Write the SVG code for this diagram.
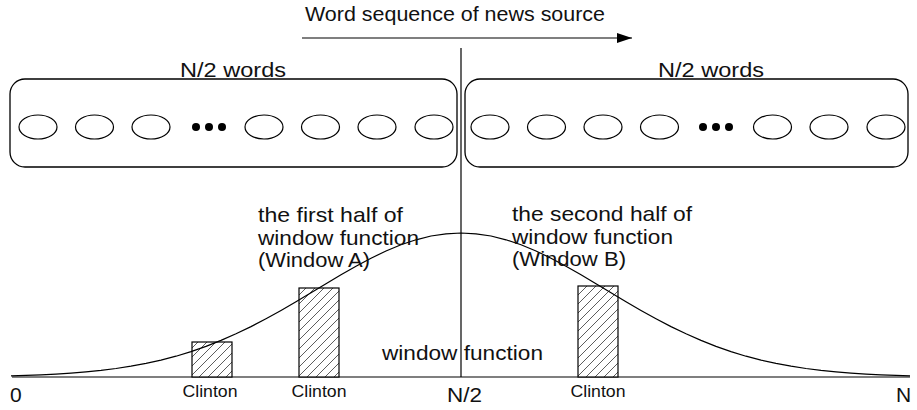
<svg xmlns="http://www.w3.org/2000/svg" width="917" height="410" viewBox="0 0 917 410">
<style>
  text { font-family: "Liberation Sans", Arial, sans-serif; fill: #111; }
  .big { font-size: 21px; }
  .small { font-size: 16px; }
  .ln { stroke: #000; stroke-width: 1.2; fill: none; }
  .box { stroke: #000; stroke-width: 1.3; fill: #fff; }
  .word { stroke: #000; stroke-width: 1.2; fill: #fff; }
  .dot { fill: #000; }
  .bar { stroke: #000; stroke-width: 1.2; fill: url(#hatch); }
</style>
<defs>
  <pattern id="hatch" patternUnits="userSpaceOnUse" width="9" height="9">
    <rect width="9" height="9" fill="#fff"/>
    <path d="M-1,10 L10,-1 M-3,3 L3,-3 M6,12 L12,6" stroke="#333" stroke-width="0.8"/>
  </pattern>
  <marker id="arrow" markerWidth="16" markerHeight="12" refX="15" refY="6" orient="auto" markerUnits="userSpaceOnUse">
    <path d="M0,1 L15,6 L0,11 Z" fill="#000"/>
  </marker>
</defs>

<g id="title">
  <text class="big" x="305" y="21" textLength="300" lengthAdjust="spacingAndGlyphs">Word sequence of news source</text>
</g>

<g id="connectors">
  <line class="ln" x1="302" y1="38" x2="632" y2="38" marker-end="url(#arrow)"/>
  <line class="ln" x1="461" y1="48" x2="461" y2="377"/>
  <line class="ln" x1="12" y1="377" x2="910" y2="377"/>
</g>

<g id="left-window">
  <text class="big" x="180" y="77" textLength="106" lengthAdjust="spacingAndGlyphs">N/2 words</text>
  <rect class="box" x="10" y="79" width="447" height="88" rx="15" ry="15"/>
  <ellipse class="word" cx="38" cy="127" rx="19" ry="12"/>
  <ellipse class="word" cx="94.5" cy="127" rx="19" ry="12"/>
  <ellipse class="word" cx="151" cy="127" rx="19" ry="12"/>
  <circle class="dot" cx="196" cy="127" r="4"/>
  <circle class="dot" cx="209" cy="127" r="4"/>
  <circle class="dot" cx="222" cy="127" r="4"/>
  <ellipse class="word" cx="264" cy="127" rx="19" ry="12"/>
  <ellipse class="word" cx="320.5" cy="127" rx="19" ry="12"/>
  <ellipse class="word" cx="377" cy="127" rx="19" ry="12"/>
  <ellipse class="word" cx="434" cy="127" rx="19" ry="12"/>
</g>

<g id="right-window">
  <text class="big" x="658" y="77" textLength="106" lengthAdjust="spacingAndGlyphs">N/2 words</text>
  <rect class="box" x="465" y="79" width="443" height="88" rx="15" ry="15"/>
  <ellipse class="word" cx="490" cy="127" rx="19" ry="12"/>
  <ellipse class="word" cx="546.5" cy="127" rx="19" ry="12"/>
  <ellipse class="word" cx="603" cy="127" rx="19" ry="12"/>
  <ellipse class="word" cx="659.5" cy="127" rx="19" ry="12"/>
  <circle class="dot" cx="703" cy="127" r="4"/>
  <circle class="dot" cx="716" cy="127" r="4"/>
  <circle class="dot" cx="729" cy="127" r="4"/>
  <ellipse class="word" cx="772.5" cy="127" rx="19" ry="12"/>
  <ellipse class="word" cx="829" cy="127" rx="19" ry="12"/>
  <ellipse class="word" cx="886" cy="127" rx="19" ry="12"/>
</g>

<g id="bars">
  <rect class="bar" x="192" y="342" width="40" height="35"/>
  <rect class="bar" x="299" y="288" width="40" height="89"/>
  <rect class="bar" x="578" y="286" width="40" height="91"/>
</g>

<g id="window-curve">
  <polyline class="ln" points="11,375.8 26,375.4 41,374.8 56,374.1 71,373.1 86,371.9 101,370.4 116,368.5 131,366.2 146,363.4 161,360.1 176,356.2 191,351.6 206,346.4 221,340.4 236,333.8 251,326.6 266,318.7 281,310.4 296,301.7 311,292.7 326,283.7 341,274.8 356,266.2 371,258.2 386,251.0 401,244.8 416,239.8 431,236.0 446,233.8 461,233 476,233.8 491,236.0 506,239.8 521,244.8 536,251.0 551,258.2 566,266.2 581,274.8 596,283.7 611,292.7 626,301.7 641,310.4 656,318.7 671,326.6 686,333.8 701,340.4 716,346.4 731,351.6 746,356.2 761,360.1 776,363.4 791,366.2 806,368.5 821,370.4 836,371.9 851,373.1 866,374.1 881,374.8 896,375.4 910,375.8"/>
</g>

<g id="label-window-a">
  <text class="big" x="258" y="222" textLength="145" lengthAdjust="spacingAndGlyphs">the first half of</text>
  <text class="big" x="258" y="245" textLength="161" lengthAdjust="spacingAndGlyphs">window function</text>
  <text class="big" x="258" y="267" textLength="112" lengthAdjust="spacingAndGlyphs">(Window A)</text>
</g>

<g id="label-window-b">
  <text class="big" x="512" y="221" textLength="180" lengthAdjust="spacingAndGlyphs">the second half of</text>
  <text class="big" x="512" y="244" textLength="161" lengthAdjust="spacingAndGlyphs">window function</text>
  <text class="big" x="512" y="266" textLength="114" lengthAdjust="spacingAndGlyphs">(Window B)</text>
</g>

<g id="label-window-function">
  <text class="big" x="382" y="360" textLength="161" lengthAdjust="spacingAndGlyphs">window function</text>
</g>

<g id="axis-labels">
  <text class="big" x="10" y="402">0</text>
  <text class="big" x="447" y="402" textLength="35" lengthAdjust="spacingAndGlyphs">N/2</text>
  <text class="big" x="896" y="402">N</text>
  <text class="small" x="210" y="397" text-anchor="middle" textLength="55" lengthAdjust="spacingAndGlyphs">Clinton</text>
  <text class="small" x="319" y="397" text-anchor="middle" textLength="55" lengthAdjust="spacingAndGlyphs">Clinton</text>
  <text class="small" x="598" y="397" text-anchor="middle" textLength="55" lengthAdjust="spacingAndGlyphs">Clinton</text>
</g>
</svg>
